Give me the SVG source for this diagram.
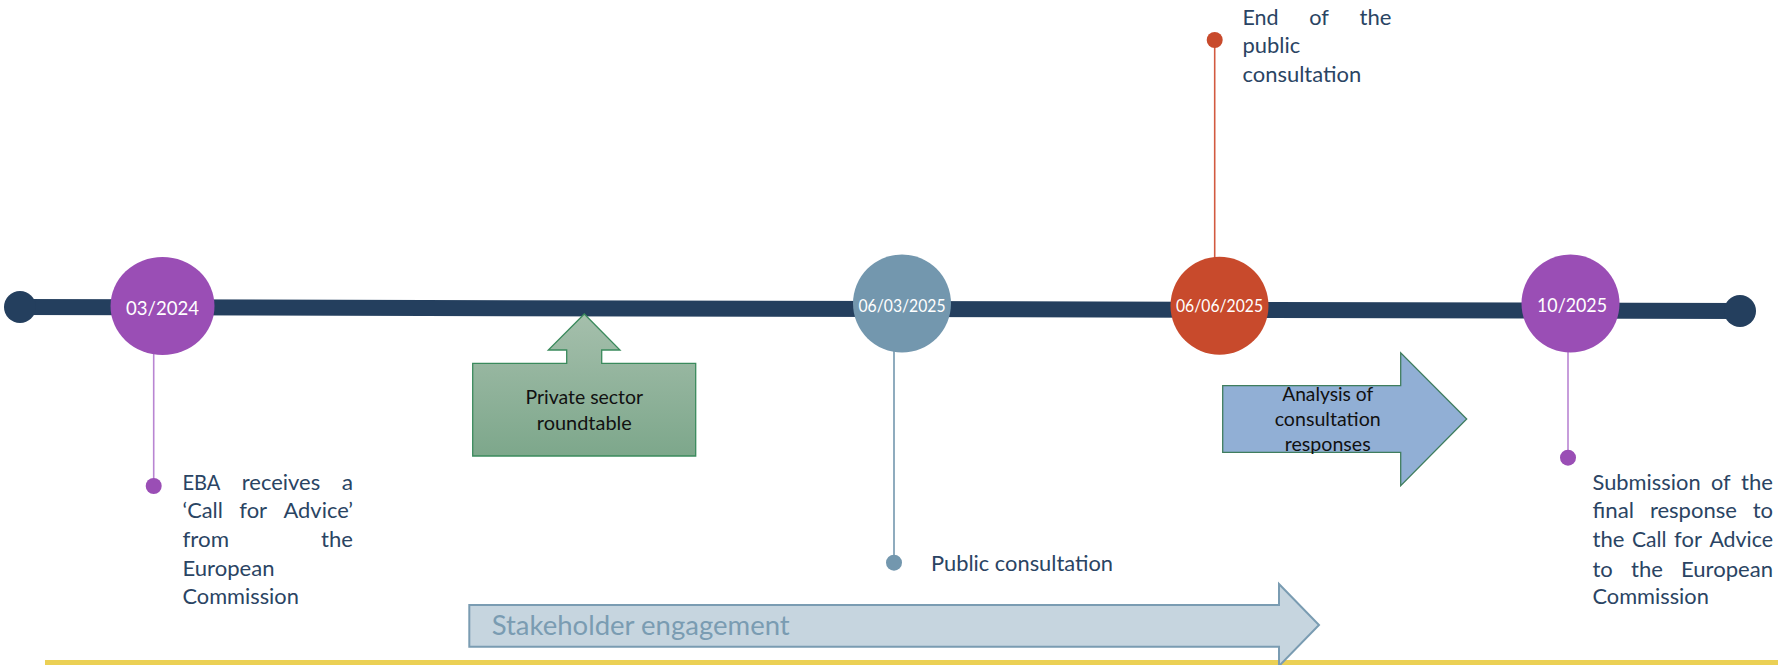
<svg xmlns="http://www.w3.org/2000/svg" width="1778" height="665" viewBox="0 0 1778 665">
<defs>
<linearGradient id="gGreen" x1="0" y1="0" x2="0" y2="1">
<stop offset="0" stop-color="#a5bfac"/>
<stop offset="1" stop-color="#7da78b"/>
</linearGradient>
</defs>
<style>
text{font-family:Lato,"Liberation Sans",sans-serif}
.body{font-size:21px;fill:#2a4463}
.date{font-size:19px;fill:#ffffff;text-anchor:middle}
.box{font-size:19px;fill:#111111;text-anchor:middle}
.purple{fill:#9a4eb5}
.pstem{stroke:#b985d2;stroke-width:1.6}
.blue{fill:#7397ae}
.bstem{stroke:#7397ae;stroke-width:1.6}
.red{fill:#c84a2c}
.rstem{stroke:#d25a40;stroke-width:1.6}
.navy{fill:#243f5e}
</style>
<rect x="0" y="0" width="1778" height="665" fill="#ffffff"/>
<g id="yellow-rule"><rect x="45" y="660" width="1733" height="5" fill="#ebd055"/></g>
<g id="connectors">
<line x1="20" y1="307" x2="1740" y2="311" stroke="#243f5e" stroke-width="16"/>
<line class="pstem" x1="153.7" y1="352" x2="153.7" y2="486"/>
<line class="bstem" x1="894" y1="350" x2="894" y2="562.7"/>
<line class="rstem" x1="1214.7" y1="40" x2="1214.7" y2="260"/>
<line class="pstem" x1="1568" y1="350" x2="1568" y2="457.7"/>
</g>
<g id="start-dot"><circle class="navy" cx="20" cy="307" r="16"/></g>
<g id="end-dot"><circle class="navy" cx="1740" cy="311" r="16"/></g>
<g id="node-0324">
<ellipse class="purple" cx="162.5" cy="306" rx="52" ry="49"/>
<text class="date" x="162.5" y="315" textLength="73" lengthAdjust="spacingAndGlyphs">03/2024</text>
</g>
<g id="node-060325">
<circle class="blue" cx="902" cy="303.5" r="49"/>
<text class="date" x="902" y="311.7" textLength="87" lengthAdjust="spacingAndGlyphs" style="font-size:17px">06/03/2025</text>
</g>
<g id="node-060625">
<circle class="red" cx="1219.5" cy="305.7" r="49"/>
<text class="date" x="1219.5" y="311.7" textLength="87" lengthAdjust="spacingAndGlyphs" style="font-size:17px">06/06/2025</text>
</g>
<g id="node-1025">
<circle class="purple" cx="1570.5" cy="303.5" r="49"/>
<text class="date" x="1572" y="311.7" textLength="70" lengthAdjust="spacingAndGlyphs">10/2025</text>
</g>
<g id="event-eba">
<circle class="purple" cx="153.7" cy="486" r="8"/>
<text class="body" x="182.5" y="490" textLength="37.9" lengthAdjust="spacingAndGlyphs">EBA</text>
<text class="body" x="241.8" y="490" textLength="78.4" lengthAdjust="spacingAndGlyphs">receives</text>
<text class="body" x="341.7" y="490" textLength="11.3" lengthAdjust="spacingAndGlyphs">a</text>
<text class="body" x="182.5" y="518.3" textLength="40.4" lengthAdjust="spacingAndGlyphs">‘Call</text>
<text class="body" x="239.3" y="518.3" textLength="27.8" lengthAdjust="spacingAndGlyphs">for</text>
<text class="body" x="283.5" y="518.3" textLength="69.5" lengthAdjust="spacingAndGlyphs">Advice’</text>
<text class="body" x="182.5" y="546.7" textLength="46.5" lengthAdjust="spacingAndGlyphs">from</text>
<text class="body" x="321.1" y="546.7" textLength="31.9" lengthAdjust="spacingAndGlyphs">the</text>
<text class="body" x="182.5" y="576" textLength="92" lengthAdjust="spacingAndGlyphs">European</text>
<text class="body" x="182.5" y="604.3" textLength="116.3" lengthAdjust="spacingAndGlyphs">Commission</text>
</g>
<g id="event-public">
<circle class="blue" cx="894" cy="562.7" r="8"/>
<text class="body" x="931" y="570.7" textLength="182" lengthAdjust="spacingAndGlyphs">Public consultation</text>
</g>
<g id="event-end">
<circle class="red" cx="1214.7" cy="40" r="8"/>
<text class="body" x="1242.5" y="25" textLength="36.1" lengthAdjust="spacingAndGlyphs">End</text>
<text class="body" x="1309.3" y="25" textLength="19.6" lengthAdjust="spacingAndGlyphs">of</text>
<text class="body" x="1359.6" y="25" textLength="31.9" lengthAdjust="spacingAndGlyphs">the</text>
<text class="body" x="1242.5" y="53.3" textLength="57.7" lengthAdjust="spacingAndGlyphs">public</text>
<text class="body" x="1242.5" y="81.7" textLength="118.7" lengthAdjust="spacingAndGlyphs">consultation</text>
</g>
<g id="event-submission">
<circle class="purple" cx="1568" cy="457.7" r="8"/>
<text class="body" x="1592.5" y="490" textLength="108.1" lengthAdjust="spacingAndGlyphs">Submission</text>
<text class="body" x="1711" y="490" textLength="19.6" lengthAdjust="spacingAndGlyphs">of</text>
<text class="body" x="1741.1" y="490" textLength="31.9" lengthAdjust="spacingAndGlyphs">the</text>
<text class="body" x="1592.5" y="518.3" textLength="41.5" lengthAdjust="spacingAndGlyphs">final</text>
<text class="body" x="1649.9" y="518.3" textLength="87" lengthAdjust="spacingAndGlyphs">response</text>
<text class="body" x="1752.7" y="518.3" textLength="20.3" lengthAdjust="spacingAndGlyphs">to</text>
<text class="body" x="1592.5" y="547.3" textLength="31.9" lengthAdjust="spacingAndGlyphs">the</text>
<text class="body" x="1632" y="547.3" textLength="34.5" lengthAdjust="spacingAndGlyphs">Call</text>
<text class="body" x="1674.1" y="547.3" textLength="27.8" lengthAdjust="spacingAndGlyphs">for</text>
<text class="body" x="1709.4" y="547.3" textLength="63.6" lengthAdjust="spacingAndGlyphs">Advice</text>
<text class="body" x="1592.5" y="576.7" textLength="20.3" lengthAdjust="spacingAndGlyphs">to</text>
<text class="body" x="1631" y="576.7" textLength="31.9" lengthAdjust="spacingAndGlyphs">the</text>
<text class="body" x="1681" y="576.7" textLength="92" lengthAdjust="spacingAndGlyphs">European</text>
<text class="body" x="1592.5" y="604.3" textLength="116.3" lengthAdjust="spacingAndGlyphs">Commission</text>
</g>
<g id="private-roundtable">
<polygon points="472.7,363.3 566.7,363.3 566.7,350 548.3,350 584.3,314 620,350 601.7,350 601.7,363.3 695.7,363.3 695.7,456 472.7,456" fill="url(#gGreen)" stroke="#3a8a5c" stroke-width="1.3"/>
<text class="box" x="584.3" y="404" textLength="117.7" lengthAdjust="spacingAndGlyphs">Private sector</text>
<text class="box" x="584.3" y="430" textLength="94.9" lengthAdjust="spacingAndGlyphs">roundtable</text>
</g>
<g id="analysis">
<polygon points="1222.7,385.7 1400.7,385.7 1400.7,352.7 1466.7,419 1400.7,485.7 1400.7,452.3 1222.7,452.3" fill="#91afd5" stroke="#3f7d5e" stroke-width="1.3"/>
<text class="box" x="1327.7" y="400.7" textLength="91" lengthAdjust="spacingAndGlyphs">Analysis of</text>
<text class="box" x="1327.7" y="426" textLength="106" lengthAdjust="spacingAndGlyphs">consultation</text>
<text class="box" x="1327.7" y="451" textLength="86" lengthAdjust="spacingAndGlyphs">responses</text>
</g>
<g id="stakeholder">
<polygon points="469.3,605 1279,605 1279,584 1319,625 1279,666 1279,646.7 469.3,646.7" fill="#c6d5df" stroke="#7a9cb2" stroke-width="2"/>
<text x="491.7" y="635" textLength="298" lengthAdjust="spacingAndGlyphs" style="font-size:26px;fill:#7a9cb2">Stakeholder engagement</text>
</g>
</svg>
